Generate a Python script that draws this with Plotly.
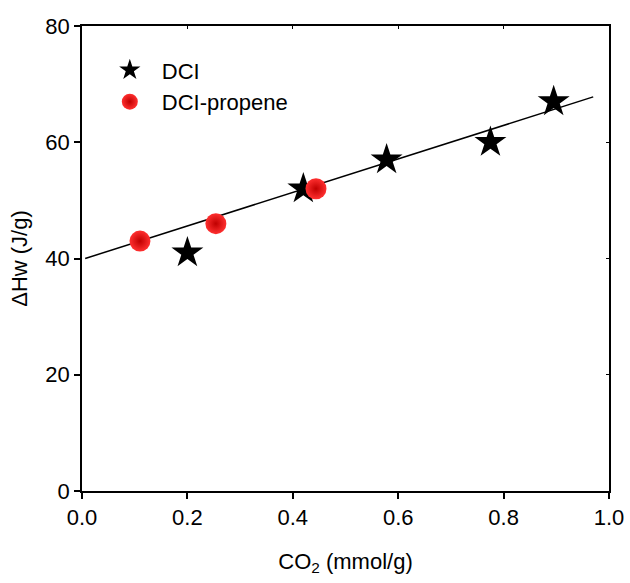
import plotly.graph_objects as go

# CO2 uptake (mmol/g) vs. heat of wetting (J/g)
dci_x = [0.20, 0.42, 0.578, 0.775, 0.895]
dci_y = [41.0, 52.0, 57.0, 60.0, 67.0]

propene_x = [0.110, 0.254, 0.444]
propene_y = [43.0, 46.0, 52.0]

# linear fit endpoints
fit_x = [0.006, 0.97]
fit_y = [40.0, 67.8]

x_ticks = [0.0, 0.2, 0.4, 0.6, 0.8, 1.0]
y_ticks = [0, 20, 40, 60, 80]

FONT = "Liberation Sans, Arial, sans-serif"

fig = go.Figure()

fig.add_trace(go.Scatter(
    x=fit_x, y=fit_y, mode="lines",
    line=dict(color="black", width=1.5),
    showlegend=False, hoverinfo="skip",
))

fig.add_trace(go.Scatter(
    x=dci_x, y=dci_y, mode="markers", name="DCI",
    marker=dict(symbol="star", size=24, color="black",
                line=dict(width=0)),
))

fig.add_trace(go.Scatter(
    x=propene_x, y=propene_y, mode="markers", name="DCI-propene",
    marker=dict(symbol="circle", size=21, color="#ff3030",
                gradient=dict(type="radial", color="#c00000"),
                line=dict(width=0)),
))

axis_common = dict(
    showline=True, linecolor="black", linewidth=1.5,
    ticks="outside", ticklen=6, tickwidth=1.5, tickcolor="black",
    showgrid=False, zeroline=False, automargin=False,
    tickfont=dict(family=FONT, size=22, color="black"),
)

fig.update_layout(
    width=630, height=583,
    margin=dict(l=82, r=21, t=26, b=92),
    plot_bgcolor="white", paper_bgcolor="white",
    xaxis=dict(
        range=[0, 1.0], tickvals=x_ticks, ticktext=[f"{v:.1f}" for v in x_ticks],
        title=dict(text="CO<sub>2</sub> (mmol/g)",
                   font=dict(family=FONT, size=22, color="black"), standoff=24),
        **axis_common,
    ),
    yaxis=dict(
        range=[0, 80], tickvals=y_ticks, ticktext=[str(v) for v in y_ticks],
        title=dict(text="ΔHw (J/g)",
                   font=dict(family=FONT, size=22, color="black"), standoff=12),
        **axis_common,
    ),
    xaxis2=dict(
        overlaying="x", side="top", matches="x", range=[0, 1.0],
        tickvals=x_ticks, showticklabels=False, ticks="inside", ticklen=3,
        tickwidth=1, tickcolor="black", showline=True, linecolor="black",
        linewidth=1.5, showgrid=False, zeroline=False, automargin=False,
    ),
    yaxis2=dict(
        overlaying="y", side="right", matches="y", range=[0, 80],
        tickvals=y_ticks, showticklabels=False, ticks="inside", ticklen=3,
        tickwidth=1, tickcolor="black", showline=True, linecolor="black",
        linewidth=1.5, showgrid=False, zeroline=False, automargin=False,
    ),
    legend=dict(
        x=0.03, y=0.95, xanchor="left", yanchor="top",
        bgcolor="rgba(0,0,0,0)", borderwidth=0,
        font=dict(family=FONT, size=22, color="black"),
        itemwidth=54, tracegroupgap=0,
    ),
)

# empty trace so the mirrored top/right axes are rendered
fig.add_trace(go.Scatter(x=[], y=[], xaxis="x2", yaxis="y2",
                         showlegend=False, hoverinfo="skip"))

fig.write_html("out.html")
